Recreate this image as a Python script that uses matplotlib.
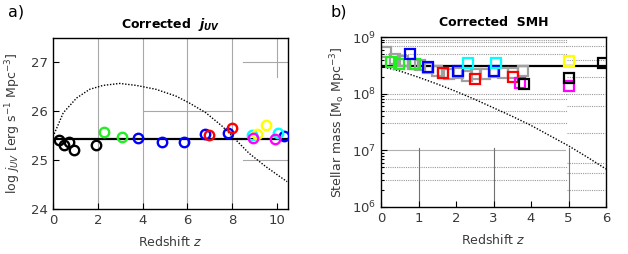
import numpy as np
import matplotlib
matplotlib.use("Agg")
import matplotlib.pyplot as plt

# ---------------- Panel a data: corrected j_UV ----------------
a_black_z = [0.27, 0.47, 0.70, 0.96, 1.94]
a_black_y = [25.42, 25.31, 25.38, 25.20, 25.31]
a_green_z = [2.27, 3.07]
a_green_y = [25.58, 25.47]
a_blue_z = [3.81, 4.89, 5.85, 6.79, 7.81, 10.33]
a_blue_y = [25.45, 25.38, 25.38, 25.53, 25.56, 25.49]
a_red_z = [6.98, 8.00]
a_red_y = [25.51, 25.65]
a_cyan_z = [8.89, 10.04]
a_cyan_y = [25.51, 25.56]
a_yellow_z = [9.11, 9.53]
a_yellow_y = [25.53, 25.71]
a_magenta_z = [8.93, 9.94]
a_magenta_y = [25.46, 25.44]
a_level = 25.43
a_curve_z = [0.0, 0.46, 1.05, 1.64, 2.24, 2.98, 3.72, 4.6, 5.5, 6.09, 6.83, 7.57, 8.16, 8.76, 9.5, 10.24, 10.46]
a_curve_y = [25.48, 25.97, 26.27, 26.45, 26.53, 26.57, 26.53, 26.45, 26.31, 26.17, 25.97, 25.69, 25.42, 25.14, 24.87, 24.63, 24.56]

# ---------------- Panel b data: corrected SMH (log10 values) ----------------
b_gray_z = [0.13, 0.37, 0.58, 0.86, 1.04, 1.26, 1.48, 1.66, 1.82, 2.05, 2.28, 2.52, 2.77, 3.02, 3.26, 3.52, 3.78]
b_gray_y = [8.73, 8.62, 8.58, 8.53, 8.50, 8.45, 8.40, 8.37, 8.34, 8.36, 8.32, 8.34, 8.34, 8.38, 8.36, 8.37, 8.40]
b_green_z = [0.26, 0.48, 0.91]
b_green_y = [8.56, 8.52, 8.52]
b_blue_z = [0.77, 1.26, 2.04, 3.01]
b_blue_y = [8.70, 8.47, 8.40, 8.40]
b_red_z = [1.66, 2.51, 3.51]
b_red_y = [8.37, 8.26, 8.30]
b_cyan_z = [2.33, 3.07]
b_cyan_y = [8.54, 8.55]
b_magenta_z = [3.71, 5.02]
b_magenta_y = [8.19, 8.13]
b_black_z = [3.81, 5.02, 5.91]
b_black_y = [8.17, 8.27, 8.55]
b_yellow_z = [5.02]
b_yellow_y = [8.58]
b_level = 8.49
b_curve_z = [0.0, 0.5, 1.0, 1.5, 2.0, 2.5, 3.0, 3.5, 4.0, 4.5, 5.0, 5.5, 6.0]
b_curve_y = [8.48, 8.40, 8.29, 8.17, 8.04, 7.90, 7.75, 7.60, 7.44, 7.26, 7.08, 6.88, 6.67]

TXT = "#3a3a3a"
plt.rcParams['font.family'] = ['DejaVu Sans']
plt.rcParams['mathtext.fontset'] = 'dejavusans'

fig = plt.figure(figsize=(6.28, 2.54), dpi=100)

# ================= Panel a =================
axa = fig.add_axes([53/628, 1-209/254, 235/628, 171/254])
axa.set_xlim(0, 10.5)
axa.set_ylim(24, 27.5)
gc = "#a8a8a8"
for xv in [2, 4, 6, 8]:
    axa.axvline(xv, color=gc, lw=0.8, zorder=0)
axa.axvline(10, ymin=0.77, ymax=1, color=gc, lw=0.8, zorder=0)
axa.axhline(27, xmin=8.5/10.5, xmax=1, color=gc, lw=0.8, zorder=0)
axa.axhline(26, xmin=4/10.5, xmax=8/10.5, color=gc, lw=0.8, zorder=0)
axa.axhline(25, xmin=8.5/10.5, xmax=1, color=gc, lw=0.8, zorder=0)

axa.plot(a_curve_z, a_curve_y, color='black', lw=1.0, ls=(0, (1, 1.2)), zorder=2)
axa.axhline(a_level, color='black', lw=1.6, zorder=2)

mk = dict(marker='o', ls='none', ms=6.8, mew=1.7, mfc='none', zorder=3)
axa.plot(a_black_z, a_black_y, mec='black', **mk)
axa.plot(a_green_z, a_green_y, mec='#22ee22', **mk)
axa.plot(a_blue_z, a_blue_y, mec='#0000ff', **mk)
axa.plot(a_red_z, a_red_y, mec='#ff0000', **mk)
axa.plot(a_cyan_z, a_cyan_y, mec='#00ffff', **mk)
axa.plot(a_yellow_z, a_yellow_y, mec='#ffff00', **mk)
axa.plot(a_magenta_z, a_magenta_y, mec='#ff00ff', **mk)

axa.set_xticks([0, 2, 4, 6, 8, 10])
axa.set_yticks([24, 25, 26, 27])
axa.tick_params(direction='in', labelsize=9.5, labelcolor=TXT, length=4, width=0.8)
for s in axa.spines.values():
    s.set_linewidth(1.0)
axa.set_xlabel("Redshift $z$", fontsize=9, color=TXT, labelpad=6)
axa.set_ylabel(r"log $j_{UV}$ [erg s$^{-1}$ Mpc$^{-3}$]", fontsize=9, color=TXT, labelpad=6)
axa.set_title(r"Corrected  $\mathbfit{j}_{\mathbfit{UV}}$", fontsize=9, fontweight='bold', pad=7)
fig.text(8/628, 1-12/254, "a)", fontsize=11.5, va='center', ha='left')

# ================= Panel b =================
axb = fig.add_axes([381/628, 1-207/254, 225/628, 170/254])
axb.set_yscale('log')
axb.set_xlim(0, 6)
axb.set_ylim(1e6, 1e9)

dc = "#9a9a9a"
left_lines = [9e8, 8e8, 7e8, 5e8, 1e8, 8e7, 5e7, 3e7, 5e6, 3e6]
right_lines = [7e8, 4e8, 2e8, 1e8, 6e7, 2e7, 6e6, 4e6, 2e6]
for yv in left_lines:
    axb.axhline(yv, xmin=0, xmax=4.95/6, color=dc, lw=0.8, ls=(0, (1, 1)), zorder=0)
for yv in right_lines:
    axb.axhline(yv, xmin=4.97/6, xmax=5.97/6, color=dc, lw=0.8, ls=(0, (1, 1)), zorder=0)
axb.axhline(1e7, xmin=0, xmax=4.9/6, color="#b0b0b0", lw=0.8, zorder=0)
for xv in [1, 3, 5]:
    axb.axvline(xv, ymin=0, ymax=0.35, color="#707070", lw=0.8, zorder=0)

axb.plot(b_curve_z, 10**np.array(b_curve_y), color='black', lw=1.0, ls=(0, (1, 1.2)), zorder=2)
axb.axhline(10**b_level, color='black', lw=1.6, zorder=2)

sk = dict(marker='s', ls='none', ms=7.0, mew=1.6, mfc='none')
axb.plot(b_gray_z, 10**np.array(b_gray_y), mec='#a0a0a0', zorder=2.5, **sk)
axb.plot(b_green_z, 10**np.array(b_green_y), mec='#22ee22', zorder=3, **sk)
axb.plot(b_blue_z, 10**np.array(b_blue_y), mec='#0000ff', zorder=3, **sk)
axb.plot(b_red_z, 10**np.array(b_red_y), mec='#ff0000', zorder=3, **sk)
axb.plot(b_cyan_z, 10**np.array(b_cyan_y), mec='#00ffff', zorder=3, **sk)
axb.plot(b_magenta_z, 10**np.array(b_magenta_y), mec='#ff00ff', zorder=3, **sk)
axb.plot(b_black_z, 10**np.array(b_black_y), mec='black', zorder=3, **sk)
axb.plot(b_yellow_z, 10**np.array(b_yellow_y), mec='#ffff00', zorder=3, **sk)

axb.set_xticks([0, 1, 2, 3, 4, 5, 6])
axb.tick_params(which='both', direction='in', labelsize=9.5, labelcolor=TXT, width=0.8)
axb.tick_params(which='major', length=4)
axb.tick_params(which='minor', length=2)
for s in axb.spines.values():
    s.set_linewidth(1.0)
axb.set_xlabel("Redshift $z$", fontsize=9, color=TXT, labelpad=6)
axb.set_ylabel(r"Stellar mass [M$_{\rm o}$ Mpc$^{-3}$]", fontsize=9, color=TXT, labelpad=3)
axb.set_title("Corrected  SMH", fontsize=9, fontweight='bold', pad=8)
fig.text(330/628, 1-12/254, "b)", fontsize=11.5, va='center', ha='left')

fig.savefig("out.png", dpi=100)
